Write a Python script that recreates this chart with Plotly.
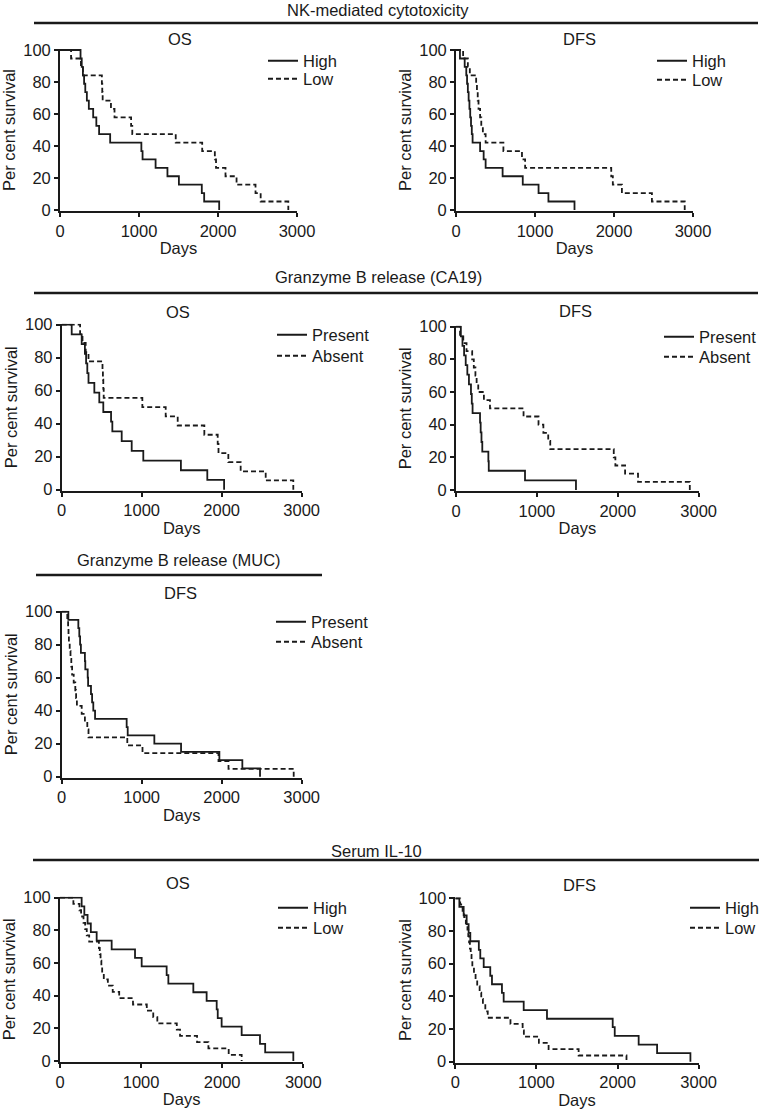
import plotly.graph_objects as go

W, H = 764, 1112

# ---------------- data ----------------
# survival steps, 19 patients
steps19 = [100, 94.7, 89.5, 84.2, 78.9, 73.7, 68.4, 63.2, 57.9, 52.6, 47.4,
           42.1, 36.8, 31.6, 26.3, 21.1, 15.8, 10.5, 5.3, 0]

# NK-mediated cytotoxicity - OS
nk_os_high_t = [0, 260, 275, 290, 305, 320, 340, 365, 420, 460, 495, 635, 1030, 1045, 1210, 1360, 1505, 1795, 1825, 2015]
nk_os_high_s = steps19
nk_os_low_t = [0, 140, 265, 290, 530, 535, 540, 645, 690, 900, 915, 1465, 1800, 1960, 1975, 2095, 2235, 2475, 2540, 2890]
nk_os_low_s = steps19

# NK-mediated cytotoxicity - DFS
nk_dfs_high_t = [0, 50, 110, 130, 140, 150, 160, 170, 180, 190, 200, 210, 305, 350, 375, 590, 845, 1045, 1170, 1500]
nk_dfs_high_s = steps19
nk_dfs_low_t = [0, 90, 150, 175, 255, 265, 275, 285, 305, 320, 340, 375, 600, 835, 875, 1965, 1985, 2100, 2480, 2895]
nk_dfs_low_s = steps19

# Granzyme B release (CA19) - OS
ca_os_present_t = [0, 125, 250, 290, 305, 320, 335, 408, 470, 520, 617, 633, 750, 875, 1020, 1490, 1820, 2030]
ca_os_present_s = [100, 94.1, 88.2, 82.4, 76.5, 70.6, 64.7, 58.8, 52.9, 47.1, 41.2, 35.3, 29.4, 23.5, 17.6, 11.8, 5.9, 0]
ca_os_absent_t = [0, 230, 260, 300, 335, 510, 515, 520, 525, 1008, 1300, 1450, 1783, 1950, 1960, 2083, 2237, 2550, 2895]
ca_os_absent_s = [100, 94.4, 88.9, 83.3, 77.8, 72.2, 66.7, 61.1, 55.6, 50, 44.4, 38.9, 33.3, 27.8, 22.2, 16.7, 11.1, 5.6, 0]

# Granzyme B release (CA19) - DFS
ca_dfs_present_t = [0, 60, 80, 100, 120, 140, 160, 185, 195, 205, 297, 305, 315, 325, 400, 405, 853, 1483]
ca_dfs_present_s = [100, 94.1, 88.2, 82.4, 76.5, 70.6, 64.7, 58.8, 52.9, 47.1, 41.2, 35.3, 29.4, 23.5, 17.6, 11.8, 5.9, 0]
ca_dfs_absent_t = [0, 50, 90, 130, 200, 220, 240, 255, 275, 345, 420, 835, 1020, 1080, 1140, 1165, 1950, 1970, 2090, 2250, 2890]
ca_dfs_absent_s = [100, 95, 90, 85, 80, 75, 70, 65, 60, 55, 50, 45, 40, 35, 30, 25, 20, 15, 10, 5, 0]

# Granzyme B release (MUC) - DFS
muc_dfs_present_t = [0, 83, 208, 220, 230, 240, 290, 295, 325, 330, 366, 380, 395, 417, 812, 825, 1158, 1492, 1971, 2258, 2479]
muc_dfs_present_s = [100, 95, 90, 85, 80, 75, 70, 65, 60, 55, 50, 45, 40, 35, 30, 25, 20, 15, 10, 5, 0]
muc_dfs_absent_t = [0, 70, 80, 85, 90, 100, 110, 120, 130, 150, 170, 180, 190, 250, 290, 320, 335, 820, 1010, 1960, 2085, 2900]
muc_dfs_absent_s = [100, 95.2, 90.5, 85.7, 81.0, 76.2, 71.4, 66.7, 61.9, 57.1, 52.4, 47.6, 42.9, 38.1, 33.3, 28.6, 23.8, 19.0, 14.3, 9.5, 4.8, 0]

# Serum IL-10 - OS
steps26 = [100, 96.2, 92.3, 88.5, 84.6, 80.8, 76.9, 73.1, 69.2, 65.4, 61.5, 57.7, 53.8, 50.0,
           46.2, 42.3, 38.5, 34.6, 30.8, 26.9, 23.1, 19.2, 15.4, 11.5, 7.7, 3.8, 0]
il_os_high_t = [0, 267, 300, 340, 380, 452, 637, 925, 1007, 1315, 1336, 1644, 1808, 1932, 1945, 1993, 2240, 2466, 2530, 2877]
il_os_high_s = steps19
il_os_low_t = [0, 165, 240, 260, 290, 310, 330, 360, 480, 490, 500, 510, 520, 540, 590, 650, 730, 900, 1070, 1150, 1200, 1440, 1480, 1690, 1830, 2080, 2240]
il_os_low_s = steps26

# Serum IL-10 - DFS
il_dfs_high_t = [0, 50, 103, 140, 164, 185, 290, 308, 350, 431, 452, 575, 596, 843, 1130, 1940, 1965, 2260, 2487, 2898]
il_dfs_high_s = steps19
il_dfs_low_t = [0, 60, 90, 110, 130, 150, 160, 170, 180, 190, 200, 210, 230, 250, 270, 300, 320, 340, 370, 400, 680, 830, 845, 1030, 1150, 1520, 2110]
il_dfs_low_s = steps26

x_ticks = [0, 1000, 2000, 3000]
y_ticks = [0, 20, 40, 60, 80, 100]

FONT = "Liberation Sans, Arial, Helvetica, sans-serif"
INK = "#1a1a1a"
FS = 16.5


def xdom(x0, x1):
    return [x0 / W, x1 / W]


def ydom(top, bottom):
    # top = pixel of 100 %, bottom = pixel of 0 %; range is padded by 0.6
    k = (bottom - top) / 100
    return [1 - (bottom + 0.6 * k) / H, 1 - (top - 0.6 * k) / H]


# panel geometry in pixels: (x of day 0, x of day 3000, y of 100 %, y of 0 %, title, title x, title y)
panels = [
    (60, 297, 50, 210, "OS", 180, 39),
    (456, 693, 50, 210, "DFS", 579, 39),
    (61.7, 301.7, 324.7, 489.7, "OS", 178, 312),
    (456, 698.7, 326.7, 490, "DFS", 575, 311),
    (61.7, 301.7, 611.7, 776.7, "DFS", 180, 593),
    (60, 303.3, 897.7, 1061, "OS", 178, 883),
    (455.3, 698.7, 898.3, 1061.7, "DFS", 579, 885),
]

# curves per panel: (t, s, name, dashed, legend text left, legend y)
curves = [
    [(nk_os_high_t, nk_os_high_s, "High", False, 303, 61), (nk_os_low_t, nk_os_low_s, "Low", True, 303, 79)],
    [(nk_dfs_high_t, nk_dfs_high_s, "High", False, 692, 61), (nk_dfs_low_t, nk_dfs_low_s, "Low", True, 692, 80)],
    [(ca_os_present_t, ca_os_present_s, "Present", False, 312, 335), (ca_os_absent_t, ca_os_absent_s, "Absent", True, 312, 356)],
    [(ca_dfs_present_t, ca_dfs_present_s, "Present", False, 699, 337), (ca_dfs_absent_t, ca_dfs_absent_s, "Absent", True, 699, 357)],
    [(muc_dfs_present_t, muc_dfs_present_s, "Present", False, 311, 622), (muc_dfs_absent_t, muc_dfs_absent_s, "Absent", True, 311, 642)],
    [(il_os_high_t, il_os_high_s, "High", False, 313, 908), (il_os_low_t, il_os_low_s, "Low", True, 313, 928)],
    [(il_dfs_high_t, il_dfs_high_s, "High", False, 725, 908), (il_dfs_low_t, il_dfs_low_s, "Low", True, 725, 928)],
]

# section headers: (text, centre x, y, rule y, rule x0, rule x1)
sections = [
    ("NK-mediated cytotoxicity", 378, 10, 23, 34, 758),
    ("Granzyme B release (CA19)", 378, 277, 293, 34, 758),
    ("Granzyme B release (MUC)", 178.5, 560, 575, 36, 322),
    ("Serum IL-10", 376, 851, 860, 33, 759),
]

fig = go.Figure()
layout = dict(
    width=W, height=H,
    margin=dict(l=0, r=0, t=0, b=0, autoexpand=False),
    paper_bgcolor="white", plot_bgcolor="white",
    font=dict(family=FONT, size=FS, color=INK),
    showlegend=True,
    annotations=[], shapes=[],
)

axis_common = dict(
    showline=True, linecolor=INK, linewidth=1.8,
    ticks="outside", ticklen=4, tickwidth=1.8, tickcolor=INK,
    showgrid=False, zeroline=False, automargin=False,
    tickfont=dict(family=FONT, size=FS, color=INK),
)

n_leg = 0
for i, (x0, x1, ytop, ybot, title, tx, ty) in enumerate(panels):
    sfx = "" if i == 0 else str(i + 1)
    layout["xaxis" + sfx] = dict(
        axis_common, domain=xdom(x0, x1), range=[0, 3000], tickvals=x_ticks,
        anchor="y" + sfx,
        title=dict(text="Days", standoff=4, font=dict(size=FS)),
    )
    layout["yaxis" + sfx] = dict(
        axis_common, domain=ydom(ytop, ybot), range=[-0.6, 100.6], tickvals=y_ticks,
        anchor="x" + sfx,
        title=dict(text="Per cent survival", standoff=3, font=dict(size=FS)),
    )
    layout["annotations"].append(dict(
        text=title, x=tx / W, y=1 - ty / H, xref="paper", yref="paper",
        xanchor="center", yanchor="middle", showarrow=False, font=dict(size=FS),
    ))
    for t, s, name, dashed, lx, ly in curves[i]:
        n_leg += 1
        leg = "legend" if n_leg == 1 else "legend%d" % n_leg
        fig.add_trace(go.Scatter(
            x=t, y=s, mode="lines", name=name, showlegend=True,
            line=dict(shape="hv", color=INK, width=1.8, dash="5px,3px" if dashed else "solid"),
            xaxis="x" + sfx, yaxis="y" + sfx, legend=leg,
        ))
        layout[leg] = dict(
            x=(lx - 40) / W, y=1 - ly / H, xanchor="left", yanchor="middle",
            bgcolor="rgba(0,0,0,0)", borderwidth=0, font=dict(size=FS),
            itemwidth=30,
        )

for text, cx, cy, ry, rx0, rx1 in sections:
    layout["annotations"].append(dict(
        text=text, x=cx / W, y=1 - cy / H, xref="paper", yref="paper",
        xanchor="center", yanchor="middle", showarrow=False, font=dict(size=FS),
    ))
    layout["shapes"].append(dict(
        type="line", xref="paper", yref="paper",
        x0=rx0 / W, x1=rx1 / W, y0=1 - ry / H, y1=1 - ry / H,
        line=dict(color=INK, width=2.5),
    ))

fig.update_layout(**layout)
# drop the default 8px page margin so the 764x1112 figure fits the window exactly
fig.write_html("out.html", config={"displayModeBar": False},
               post_script="document.body.style.margin = '0';")
